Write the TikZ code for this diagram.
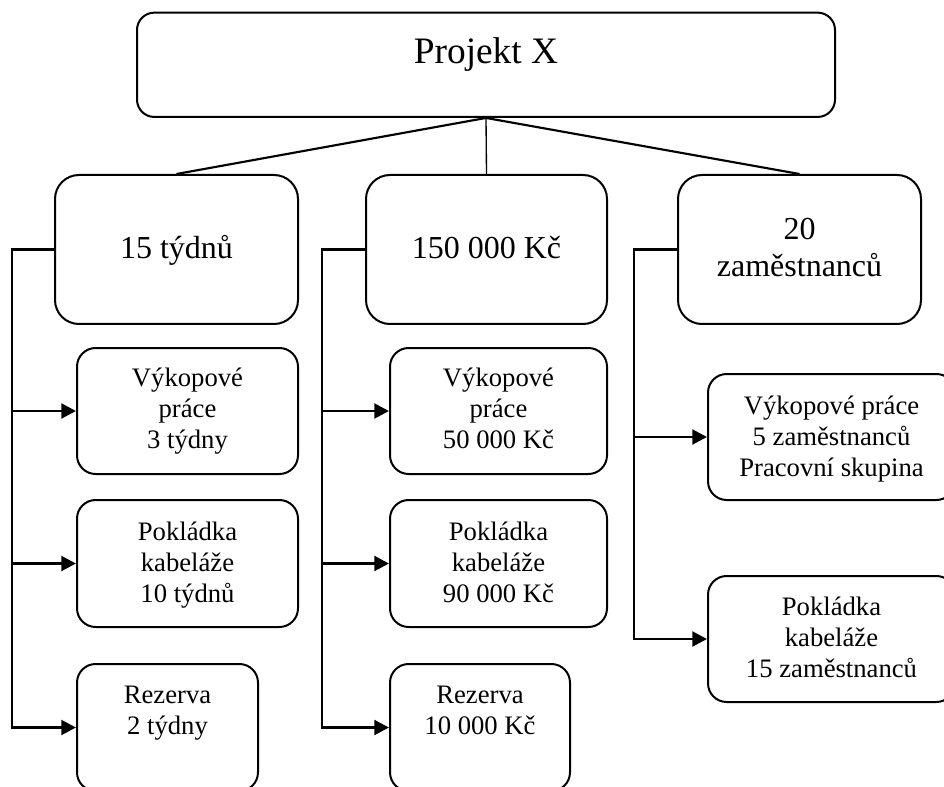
\documentclass[tikz,border=0pt]{standalone}
\usepackage{fontspec}
\setmainfont{Liberation Serif}
\usetikzlibrary{arrows.meta}
\newcommand{\mlines}[1]{\begin{tabular}[t]{@{}c@{}}#1\end{tabular}}
\begin{document}
\begin{tikzpicture}[x=0.75pt,y=-0.75pt,
  box/.style 2 args={draw, line width=1.5pt, minimum width=#1*0.75pt, minimum height=#2*0.75pt, inner sep=0pt},
  topbox/.style={rounded corners=13pt},
  bigbox/.style={rounded corners=18pt},
  smallbox/.style={rounded corners=14pt},
  txt/.style={inner sep=0pt, anchor=base},
  ftop/.style={font=\fontsize{28pt}{32pt}\selectfont},
  fbig/.style={font=\fontsize{24pt}{27.5pt}\selectfont},
  fsmall/.style={font=\fontsize{20pt}{23.25pt}\selectfont},
  link/.style={line width=1.6pt},
  thinlink/.style={line width=1pt},
  bracket/.style={line width=2.2pt},
  arr/.style={bracket, -{Triangle[length=11pt,width=11pt]}}
]
\useasboundingbox (0,0) rectangle (944,787);
\clip (0,0) rectangle (944,787);

% boxes
\node[box={698}{104.3}, topbox] (tp) at (486,64.8) {};
\node[box={243}{149}, bigbox] (b1) at (176.5,249.5) {};
\node[box={241}{149}, bigbox] (b2) at (486.5,249.5) {};
\node[box={243}{149}, bigbox] (b3) at (799.5,249.5) {};

\node[box={221}{126}, smallbox] (c11) at (187.5,411) {};
\node[box={221}{127}, smallbox] (c12) at (187.5,563.5) {};
\node[box={181}{127}, smallbox] (c13) at (167.5,727.5) {};

\node[box={217}{126}, smallbox] (c21) at (498.5,411) {};
\node[box={217}{127}, smallbox] (c22) at (498.5,563.5) {};
\node[box={180}{127}, smallbox] (c23) at (480,727.5) {};

\node[box={247}{126}, smallbox] (c31) at (831.5,437) {};
\node[box={247}{126}, smallbox] (c32) at (831.5,639) {};

% texts
\node[txt, ftop] (ttp) at (486,63.3) {Projekt X};
\node[txt, fbig] (tb1) at (176.5,258.3) {15 týdnů};
\node[txt, fbig] (tb2) at (486.5,258.3) {150 000 Kč};
\node[txt, fbig] (tb3) at (799.5,240) {\mlines{20\\zaměstnanců}};

\node[txt, fsmall] (tc11) at (187.5,386.7) {\mlines{Výkopové\\práce\\3 týdny}};
\node[txt, fsmall] (tc12) at (187.5,540.7) {\mlines{Pokládka\\kabeláže\\10 týdnů}};
\node[txt, fsmall] (tc13) at (167.5,703.3) {\mlines{Rezerva\\2 týdny}};

\node[txt, fsmall] (tc21) at (498.5,386.7) {\mlines{Výkopové\\práce\\50 000 Kč}};
\node[txt, fsmall] (tc22) at (498.5,540.7) {\mlines{Pokládka\\kabeláže\\90 000 Kč}};
\node[txt, fsmall] (tc23) at (480,703.3) {\mlines{Rezerva\\10 000 Kč}};

\node[txt, fsmall] (tc31) at (831.5,414) {\mlines{Výkopové práce\\5 zaměstnanců\\Pracovní skupina}};
\node[txt, fsmall] (tc32) at (831.5,615) {\mlines{Pokládka\\kabeláže\\15 zaměstnanců}};

% top connectors
\draw[link] (tp.south) -- (b1.north);
\draw[thinlink] (tp.south) -- (b2.north);
\draw[link] (tp.south) -- (b3.north);

% bracket rails
\coordinate (v1) at (12,0);
\coordinate (v2) at (322,0);
\coordinate (v3) at (634,0);

\draw[arr] (b1.west) -- (v1 |- b1.west) -- (v1 |- c13.west) -- (c13.west);
\draw[arr] (v1 |- c11.west) -- (c11.west);
\draw[arr] (v1 |- c12.west) -- (c12.west);

\draw[arr] (b2.west) -- (v2 |- b2.west) -- (v2 |- c23.west) -- (c23.west);
\draw[arr] (v2 |- c21.west) -- (c21.west);
\draw[arr] (v2 |- c22.west) -- (c22.west);

\draw[arr] (b3.west) -- (v3 |- b3.west) -- (v3 |- c32.west) -- (c32.west);
\draw[arr] (v3 |- c31.west) -- (c31.west);
\end{tikzpicture}
\end{document}
